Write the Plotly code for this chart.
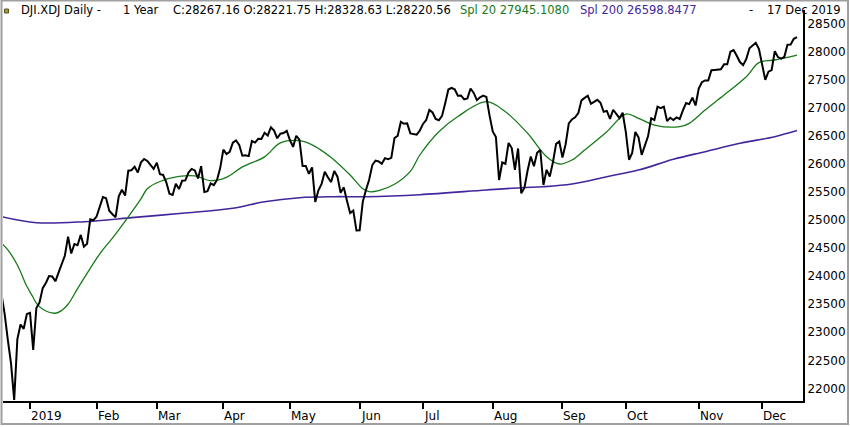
import pandas as pd
import plotly.graph_objects as go

# trading calendar for the year shown (weekdays minus NYSE holidays)
holidays = ["2018-12-25", "2019-01-01", "2019-01-21", "2019-02-18", "2019-04-19",
            "2019-05-27", "2019-07-04", "2019-09-02", "2019-11-28"]
days = pd.bdate_range("2018-12-18", "2019-12-17")
dates = [d.strftime("%Y-%m-%d") for d in days if d.strftime("%Y-%m-%d") not in holidays]

# daily closes, month by month
close = [
    # Dec 2018
    23675.64, 23323.66, 22859.60, 22445.37, 21792.20, 22878.45, 23138.82, 23062.40, 23327.46,
    # Jan
    23346.24, 22686.22, 23433.16, 23531.35, 23787.45, 23879.12, 24001.92, 23995.95, 23909.84,
    24065.59, 24207.16, 24370.10, 24706.35, 24404.48, 24575.62, 24553.24, 24737.20, 24528.22,
    24579.96, 25014.86, 24999.67,
    # Feb
    25063.89, 25239.37, 25411.52, 25390.30, 25169.53, 25106.33, 25053.11, 25425.76, 25543.27,
    25439.39, 25883.25, 25891.32, 25954.44, 25850.63, 26031.81, 26091.95, 26057.98, 25985.16,
    25916.00,
    # Mar
    26026.32, 25819.65, 25806.63, 25673.46, 25473.23, 25450.24, 25650.88, 25554.66, 25702.89,
    25709.94, 25848.87, 25914.10, 25887.38, 25745.67, 25962.51, 25502.32, 25516.83, 25657.73,
    25625.59, 25717.46, 25928.68,
    # Apr
    26258.42, 26179.13, 26218.13, 26384.63, 26424.99, 26341.02, 26150.58, 26157.16, 26143.05,
    26412.30, 26384.77, 26452.66, 26449.54, 26559.54, 26511.05, 26656.39, 26597.05, 26462.08,
    26543.33, 26554.39, 26592.91,
    # May
    26430.14, 26307.79, 26504.95, 26438.48, 25965.09, 25967.33, 25828.36, 25942.37, 25324.99,
    25532.05, 25648.02, 25862.68, 25764.00, 25679.90, 25877.33, 25776.61, 25490.47, 25585.69,
    25347.77, 25126.41, 25169.88, 24815.04,
    # Jun
    24819.78, 25332.18, 25539.57, 25720.66, 25983.94, 26062.68, 26048.51, 26004.83, 26106.77,
    26089.61, 26112.53, 26465.54, 26504.00, 26753.17, 26719.13, 26727.54, 26548.22, 26536.82,
    26526.58, 26599.96,
    # Jul
    26717.43, 26786.68, 26966.00, 26922.12, 26806.14, 26783.49, 26860.20, 27088.08, 27332.03,
    27359.16, 27335.63, 27219.85, 27222.97, 27154.20, 27171.90, 27349.19, 27269.97, 27140.98,
    27192.45, 27221.35, 27198.02, 26864.27,
    # Aug
    26583.42, 26485.01, 25717.74, 26029.52, 26007.07, 26378.19, 26287.44, 25896.44, 26279.91,
    25479.42, 25579.39, 25886.01, 26135.79, 25962.44, 26202.73, 26252.24, 25628.90, 25898.83,
    25777.90, 26036.10, 26362.25, 26403.28,
    # Sep
    26118.02, 26355.47, 26728.15, 26797.46, 26835.51, 26909.43, 27137.04, 27182.45, 27219.52,
    27076.82, 27110.80, 27147.08, 27094.79, 26935.07, 26949.99, 26807.77, 26970.71, 26891.12,
    26820.25, 26916.83,
    # Oct
    26573.04, 26078.62, 26201.04, 26573.72, 26478.02, 26164.04, 26346.01, 26496.67, 26816.59,
    26787.36, 27024.80, 26999.14, 27025.88, 26770.20, 26827.64, 26788.10, 26833.95, 26805.53,
    26958.06, 27090.72, 27071.46, 27186.69, 27046.23,
    # Nov
    27347.36, 27462.11, 27492.63, 27492.56, 27674.80, 27681.24, 27691.49, 27691.49, 27783.59,
    27781.96, 28004.89, 28036.22, 27934.02, 27821.09, 27766.29, 27875.62, 28066.47, 28121.68,
    28164.00, 28051.41,
    # Dec
    27783.04, 27502.81, 27649.78, 27677.79, 28015.06, 27909.60, 27881.72, 27911.30, 28132.05,
    28135.38, 28235.89, 28267.16,
]

# 20-day average
spl20_dates = ["2018-12-18", "2018-12-20", "2018-12-26", "2018-12-31", "2019-01-03", "2019-01-04",
               "2019-01-08", "2019-01-14", "2019-01-16", "2019-01-18", "2019-01-24", "2019-01-29",
               "2019-02-04", "2019-02-08", "2019-02-15", "2019-02-22", "2019-02-26", "2019-03-04",
               "2019-03-12", "2019-03-19", "2019-03-26", "2019-04-02", "2019-04-09", "2019-04-18",
               "2019-04-26", "2019-05-06", "2019-05-10", "2019-05-20", "2019-05-29", "2019-06-04",
               "2019-06-06", "2019-06-11", "2019-06-18", "2019-06-25", "2019-06-28", "2019-07-09",
               "2019-07-17", "2019-07-30", "2019-08-07", "2019-08-16", "2019-08-26", "2019-08-30",
               "2019-09-06", "2019-09-12", "2019-09-23", "2019-10-01", "2019-10-07", "2019-10-14",
               "2019-10-24", "2019-10-29", "2019-11-05", "2019-11-13", "2019-11-22", "2019-11-29",
               "2019-12-06", "2019-12-17"]
spl20 = [24590, 24470, 24200, 23820, 23620, 23520,
         23410, 23340, 23390, 23500, 23780, 24050,
         24400, 24680, 25060, 25380, 25560, 25690,
         25780, 25790, 25705, 25765, 25950, 26130,
         26380, 26418, 26345, 26120, 25806, 25560,
         25508, 25526, 25640, 25870, 26163, 26579,
         26850, 27114, 26935, 26550, 26133, 26002,
         26074, 26252, 26579, 26894, 26818, 26698,
         26668, 26728, 26966, 27233, 27560, 27810,
         27858, 27945]

# 200-day average
spl200_dates = ["2018-12-18", "2019-01-04", "2019-01-28", "2019-02-20", "2019-03-13", "2019-04-04",
                "2019-04-18", "2019-05-06", "2019-05-21", "2019-06-05", "2019-06-28", "2019-07-30",
                "2019-08-14", "2019-08-23", "2019-09-06", "2019-09-23", "2019-10-07", "2019-10-22",
                "2019-11-05", "2019-11-20", "2019-12-06", "2019-12-17"]
spl200 = [25063, 24955, 24973, 25051, 25123, 25212,
          25330, 25401, 25419, 25419, 25455, 25539,
          25580, 25597, 25646, 25776, 25895, 26086,
          26222, 26371, 26490, 26599]

month_dates = ["2019-01-02", "2019-02-01", "2019-03-01", "2019-04-01", "2019-05-01", "2019-06-03",
               "2019-07-01", "2019-08-01", "2019-09-03", "2019-10-01", "2019-11-01", "2019-12-02"]
month_labels = ["2019", "Feb", "Mar", "Apr", "May", "Jun", "Jul", "Aug", "Sep", "Oct", "Nov", "Dec"]
price_ticks = [22000, 22500, 23000, 23500, 24000, 24500, 25000, 25500,
               26000, 26500, 27000, 27500, 28000, 28500]

GREEN = "#187a18"
PURPLE = "#43269c"
FONT = "DejaVu Sans"

fig = go.Figure()
fig.add_trace(go.Scatter(x=spl200_dates, y=spl200, mode="lines",
                         line=dict(color=PURPLE, width=1.6, shape="spline")))
fig.add_trace(go.Scatter(x=spl20_dates, y=spl20, mode="lines",
                         line=dict(color=GREEN, width=1.3, shape="spline")))
fig.add_trace(go.Scatter(x=dates, y=close, mode="lines",
                         line=dict(color="black", width=2)))

fig.update_xaxes(
    type="category", categoryorder="array", categoryarray=dates,
    range=[0.47, 252.9],
    showgrid=False, zeroline=False,
    showline=True, linecolor="black", linewidth=2,
    ticks="outside", ticklen=6, tickwidth=2, tickcolor="black",
    tickvals=month_dates, showticklabels=False,
)
fig.update_yaxes(
    side="right", range=[21774, 28750],
    showgrid=False, zeroline=False,
    showline=True, linecolor="black", linewidth=2,
    tickvals=price_ticks, tickformat="d", ticks="",
    tickfont=dict(family=FONT, size=12, color="black"),
)

# month labels sit to the right of their tick
annos = []
for d, lab in zip(month_dates, month_labels):
    annos.append(dict(x=d, y=-0.038, xref="x", yref="paper", text=lab, showarrow=False,
                      xanchor="left", yanchor="middle", xshift=-1,
                      font=dict(family=FONT, size=12, color="black")))


def px_x(px):
    return (px - 3) / 800


def px_y(py):
    return (401 - py) / 391


header = [
    ("DJI.XDJ Daily -", 19, "left", "black"),
    ("1 Year", 161, "right", "black"),
    ("C:28267.16 O:28221.75 H:28328.63 L:28220.56", 453, "right", "black"),
    ("Spl 20 27945.1080", 458, "left", GREEN),
    ("Spl 200 26598.8477", 578, "left", PURPLE),
    ("-", 747, "left", "black"),
    ("17 Dec 2019", 842, "right", "black"),
]
for txt, x, anchor, col in header:
    annos.append(dict(x=px_x(x), y=px_y(10.5), xref="paper", yref="paper", text=txt,
                      showarrow=False, xanchor=anchor, yanchor="middle",
                      font=dict(family=FONT, size=11.5, color=col)))

fig.update_layout(
    width=850, height=427,
    margin=dict(l=3, r=47, t=10, b=26),
    paper_bgcolor="white", plot_bgcolor="white",
    showlegend=False,
    annotations=annos,
    shapes=[
        # outer grey frame
        dict(type="rect", xref="paper", yref="paper",
             x0=px_x(1.5), x1=px_x(848), y0=px_y(424), y1=px_y(0.5),
             line=dict(color="#a0a0a0", width=2), layer="above"),
        # little symbol marker in the header
        dict(type="rect", xref="paper", yref="paper",
             x0=px_x(4.5), x1=px_x(8.5), y0=px_y(13), y1=px_y(9),
             fillcolor="#a89a2a", line=dict(color="#555522", width=1)),
    ],
)

# page margin off so the figure sits at the window's corner
fig.write_html("out.html", config={"displayModeBar": False},
               post_script="document.body.style.margin='0';")
